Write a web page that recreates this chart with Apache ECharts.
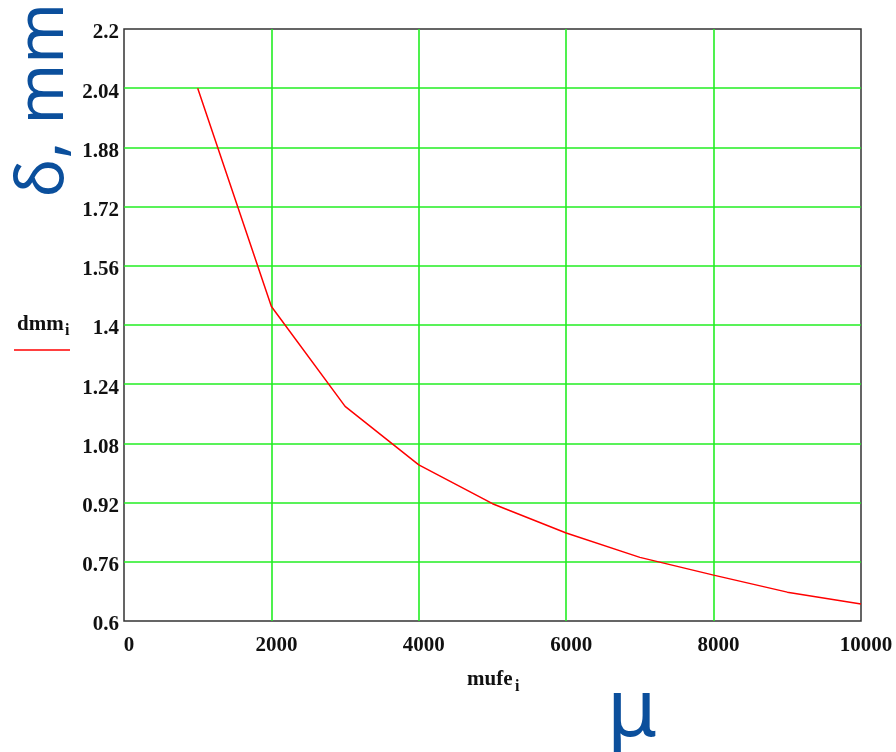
<!DOCTYPE html>
<html>
<head>
<meta charset="utf-8">
<script src="https://cdn.jsdelivr.net/npm/echarts@6/dist/echarts.min.js"></script>
<style>
html,body{margin:0;padding:0;background:#fff;}
#chart{width:896px;height:752px;}
</style>
</head>
<body>
<div id="chart"></div>
<script>
// Data
const mufe = [1000, 2000, 3000, 4000, 5000, 6000, 7000, 8000, 9000, 10000];
const dmm = [2.04, 1.45, 1.18, 1.022, 0.917, 0.838, 0.772, 0.724, 0.678, 0.646];
const xTicks = [0, 2000, 4000, 6000, 8000, 10000];
const yTicks = [0.6, 0.76, 0.92, 1.08, 1.24, 1.4, 1.56, 1.72, 1.88, 2.04, 2.2];

const BLUE = '#0b4f9c';
const SERIF = '"Liberation Serif", "DejaVu Serif", serif';

const chart = echarts.init(document.getElementById('chart'), null, {renderer: 'canvas'});
chart.setOption({
  animation: false,
  backgroundColor: '#ffffff',
  grid: {
    left: 124, top: 29, right: 35, bottom: 131,
    show: true, borderColor: '#333333', borderWidth: 1.5,
    backgroundColor: 'transparent', containLabel: false
  },
  xAxis: {
    type: 'value', min: xTicks[0], max: xTicks[xTicks.length - 1], interval: 2000,
    axisLine: {show: false},
    axisTick: {show: false},
    axisLabel: {
      margin: 14, fontFamily: SERIF, fontWeight: 'bold', fontSize: 21, color: '#111',
      padding: [0, 0, 0, 10],
      formatter: v => String(v)
    },
    splitLine: {show: true, showMinLine: false, showMaxLine: false, lineStyle: {color: '#22ee22', width: 1.6}}
  },
  yAxis: {
    type: 'value', min: yTicks[0], max: yTicks[yTicks.length - 1], interval: 0.16,
    axisLine: {show: false},
    axisTick: {show: false},
    axisLabel: {
      margin: 5, fontFamily: SERIF, fontWeight: 'bold', fontSize: 21, color: '#111',
      verticalAlign: 'top', lineHeight: 8,
      formatter: v => String(parseFloat(v.toFixed(2)))
    },
    splitLine: {show: true, showMinLine: false, showMaxLine: false, lineStyle: {color: '#22ee22', width: 1.6}}
  },
  series: [{
    type: 'line',
    data: mufe.map((m, i) => [m, dmm[i]]),
    showSymbol: false,
    lineStyle: {color: '#ff0000', width: 1.5},
    z: 5
  }],
  graphic: [
    {
      type: 'text',
      x: 44, y: 100, rotation: Math.PI / 2,
      style: {text: 'δ, mm', font: '65px "Noto Sans"', fill: BLUE, align: 'center', verticalAlign: 'middle'}
    },
    {
      type: 'text', x: 632, y: 713,
      style: {text: 'μ', font: '80px "Noto Sans"', fill: BLUE, align: 'center', verticalAlign: 'middle'}
    },
    {
      type: 'text', x: 17, y: 314,
      style: {text: 'dmm', font: 'bold 21px "Liberation Serif"', fill: '#111', align: 'left', verticalAlign: 'top'}
    },
    {
      type: 'text', x: 65, y: 323,
      style: {text: 'i', font: 'bold 16px "Liberation Serif"', fill: '#111', align: 'left', verticalAlign: 'top'}
    },
    {
      type: 'line', shape: {x1: 14, y1: 350, x2: 70, y2: 350},
      style: {stroke: '#ff0000', lineWidth: 1.5}
    },
    {
      type: 'text', x: 467, y: 669,
      style: {text: 'mufe', font: 'bold 21px "Liberation Serif"', fill: '#111', align: 'left', verticalAlign: 'top'}
    },
    {
      type: 'text', x: 515, y: 679,
      style: {text: 'i', font: 'bold 16px "Liberation Serif"', fill: '#111', align: 'left', verticalAlign: 'top'}
    }
  ]
});
</script>
</body>
</html>
